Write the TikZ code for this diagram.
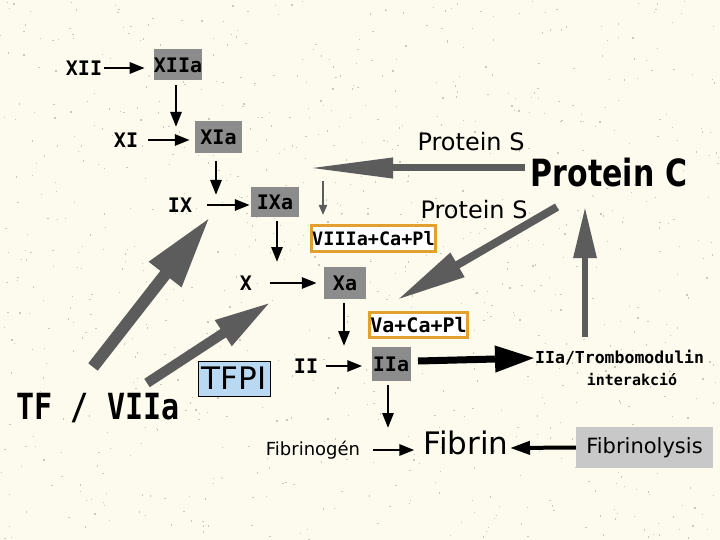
\documentclass[tikz,border=0pt]{standalone}
\usepackage{fontspec}
\usepackage{graphicx}
\setmainfont{DejaVu Sans}
\newfontfamily\monofam{DejaVu Sans Mono}
\usetikzlibrary{arrows.meta}
\definecolor{bg}{RGB}{252,251,238}
\definecolor{speck}{RGB}{200,200,190}
\definecolor{boxgray}{RGB}{140,140,140}
\definecolor{lightgray}{RGB}{200,200,200}
\definecolor{arrowgray}{RGB}{92,92,92}
\definecolor{orangeb}{RGB}{226,160,48}
\definecolor{tfpiblue}{RGB}{185,217,242}
\tikzset{
  lab/.style={font=\monofam\bfseries\fontsize{20}{20}\selectfont, inner sep=0pt},
  gbox/.style={lab, fill=boxgray},
  obox/.style={lab, fill=white, draw=orangeb, line width=3pt},
  blk/.style={line width=2.8pt, -{Triangle[length=15pt,width=11pt]}},
  gry/.style={draw=arrowgray, line width=#1},
}
\begin{document}
\begin{tikzpicture}[x=1pt,y=-1pt]
\fill[bg] (0,0) rectangle (720,540);
\useasboundingbox (0,0) rectangle (720,540);
\pgfmathsetseed{11}
\foreach \i in {1,...,900}{
  \pgfmathsetmacro{\px}{rnd*720}
  \pgfmathsetmacro{\py}{rnd*540}
  \fill[speck] (\px,\py) rectangle ++(1.3,1.3);
}
% factor labels
\node[lab] (xii) at (84,68) {XII};
\node[gbox, minimum width=48pt, minimum height=31pt] (xiia) at (178,65) {XIIa};
\node[lab] (xi) at (126,140) {XI};
\node[gbox, minimum width=47pt, minimum height=32pt] (xia) at (218.5,137) {XIa};
\node[lab] (ix) at (180,205) {IX};
\node[gbox, minimum width=48pt, minimum height=30pt] (ixa) at (275,202) {IXa};
\node[lab] (x) at (246,283) {X};
\node[gbox, minimum width=42pt, minimum height=32pt] (xa) at (345,283) {Xa};
\node[lab] (ii) at (306,366) {II};
\node[gbox, minimum width=39pt, minimum height=34pt] (iia) at (391,364) {IIa};
\node[obox, minimum width=124pt, minimum height=26pt, font=\monofam\bfseries\fontsize{18.5}{18.5}\selectfont] (viii) at (373.5,238.5) {VIIIa+Ca+Pl};
\node[obox, minimum width=98pt, minimum height=25pt] (va) at (418.5,325) {Va+Ca+Pl};
\node[lab, font=\monofam\bfseries\fontsize{16.5}{16.5}\selectfont, anchor=west] (tm) at (535,358) {IIa/Trombomodulin};
\node[lab, font=\monofam\bfseries\fontsize{15}{15}\selectfont] (inter) at (632,380) {interakció};
\node[inner sep=0pt, font=\fontsize{24}{24}\selectfont] (ps1) at (471,142) {Protein S};
\node[inner sep=0pt, font=\fontsize{24}{24}\selectfont] (ps2) at (474,210) {Protein S};
\node[inner sep=0pt, font=\bfseries\fontsize{30}{30}\selectfont] (pc) at (609,173) {\scalebox{1}[1.25]{Protein C}};
\node[inner sep=0pt, font=\monofam\bfseries\fontsize{30}{30}\selectfont] (tf) at (98,408) {\scalebox{1}[1.2]{TF / VIIa}};
\node[inner sep=0pt, draw=black, line width=1pt, fill=tfpiblue, minimum width=72pt, minimum height=35pt, font=\fontsize{31}{31}\selectfont] (tfpi) at (234,378.5) {TFPI};
\node[inner sep=0pt, font=\fontsize{18}{18}\selectfont] (fbg) at (313,450) {Fibrinogén};
\node[inner sep=0pt, font=\fontsize{31}{31}\selectfont] (fib) at (466,443) {Fibrin};
\node[inner sep=0pt, fill=lightgray, minimum width=137pt, minimum height=41pt, font=\fontsize{21}{21}\selectfont] (fly) at (644.5,447.5) {Fibrinolysis};
% black arrows
\draw[blk, shorten <=2pt, shorten >=9pt] (xii.east) -- (xii.east -| xiia.west);
\draw[blk, shorten <=4.5pt] ([xshift=-2pt]xiia.south) -- (176,127);
\draw[blk, shorten <=10pt, shorten >=5pt] (xi.east) -- (xi.east -| xia.west);
\draw[blk, shorten <=8pt] ([xshift=-2.5pt]xia.south) -- (216,195);
\draw[blk, shorten <=15pt, shorten >=1pt] (ix.east) -- (ix.east -| ixa.west);
\draw[blk, shorten <=4pt] ([xshift=2pt]ixa.south) -- (277,262);
\draw[blk, shorten <=18pt, shorten >=7pt] (x.east) -- (x.east -| xa.west);
\draw[blk, shorten <=4pt] ([xshift=-1pt]xa.south) -- (344,346);
\draw[blk, shorten <=8pt, shorten >=9pt] (ii.east) -- (ii.east -| iia.west);
\draw[blk, shorten <=4pt] ([xshift=-3pt]iia.south) -- (388,428);
\draw[blk, shorten <=13pt, shorten >=9pt] (fbg.east) -- (fbg.east -| fib.west);
\draw[line width=4pt, -{Triangle[length=20pt,width=13pt]}] (fly.west) -- (510,448);
\draw[line width=7pt, -{Triangle[length=40pt,width=25pt]}] (418,361) -- (tm.west);
% gray arrows
\coordinate (ta) at (308,168);
\coordinate (tb) at (397,300);
\coordinate (tc) at (585,207);
\coordinate (td) at (210,217);
\coordinate (te) at (271,302);
\draw[gry=7pt, -{Triangle[length=85pt,width=19pt]}, arrowgray] (525,168) -- (ta);
\draw[gry=8pt, -{Triangle[length=70pt,width=26pt]}, arrowgray] (557,207) -- (tb);
\draw[gry=6pt, -{Triangle[length=51pt,width=22pt]}, arrowgray] (585,337) -- (tc);
\draw[gry=12pt, -{Triangle[length=73pt,width=38pt]}, arrowgray] (93,367) -- (td);
\draw[gry=10pt, -{Triangle[length=57pt,width=28pt]}, arrowgray] (147,383) -- (te);
\draw[gry=2pt, -{Triangle[length=10pt,width=8pt]}, arrowgray] (323,181) -- (323,215);
\end{tikzpicture}
\end{document}
